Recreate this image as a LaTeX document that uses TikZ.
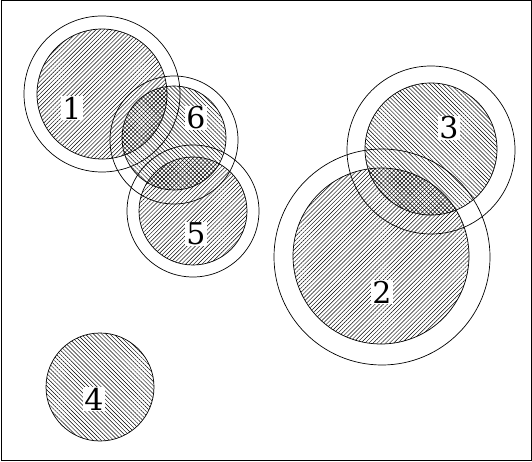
\documentclass[tikz,border=0pt]{standalone}
\usepackage{fontspec}
\setmainfont{DejaVu Serif}
\usetikzlibrary{patterns.meta}
\begin{document}
\begin{tikzpicture}[x=1pt,y=-1pt,
  ring/.style={draw=black, line width=0.7pt},
  hatchne/.style={draw=black, line width=0.7pt, pattern={Lines[angle=45,distance=2.9pt,line width=0.45pt]}},
  hatchnw/.style={draw=black, line width=0.7pt, pattern={Lines[angle=-45,distance=2.9pt,line width=0.45pt]}},
  lbl/.style={fill=white, inner sep=1pt, font=\fontsize{30}{30}\selectfont}]
\useasboundingbox (0,0) rectangle (532,462);
\draw[line width=1pt] (1,1) rectangle (531,460);
% hatched discs
\path[hatchne] (102,94) circle[radius=65];
\path[hatchnw] (174,138) circle[radius=52];
\path[hatchne] (193,211) circle[radius=54];
\path[hatchnw] (431,149) circle[radius=66];
\path[hatchne] (381,256) circle[radius=88];
\path[hatchnw] (100,387) circle[radius=54];
% outer rings
\draw[ring] (102,94) circle[radius=78];
\draw[ring] (174,140) circle[radius=64];
\draw[ring] (193,211) circle[radius=66];
\draw[ring] (431,150) circle[radius=84];
\draw[ring] (382,257) circle[radius=108];
% labels
\node[lbl] (l1) at (72,108) {1};
\node[lbl] (l6) at (196,118) {6};
\node[lbl] (l5) at (196,234) {5};
\node[lbl] (l3) at (449,128) {3};
\node[lbl] (l2) at (382,292) {2};
\node[lbl] (l4) at (94,399) {4};
\end{tikzpicture}
\end{document}
